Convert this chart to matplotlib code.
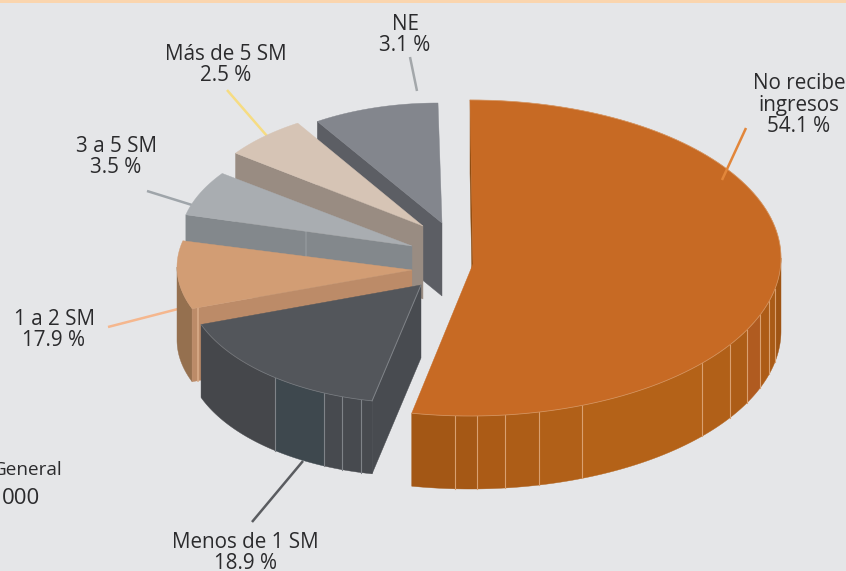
import numpy as np
from matplotlib import pyplot as plt

# printed labels
labels = ["No recibe\ningresos", "Menos de 1 SM", "1 a 2 SM", "3 a 5 SM", "Más de 5 SM", "NE"]
percents = [54.1, 18.9, 17.9, 3.5, 2.5, 3.1]
# share of the circle each slice really takes in the drawing (not the printed value)
drawn_shares = [53.0, 16.2, 9.4, 6.2, 6.1, 9.1]

# layout of each slice on the canvas
centers = [(470, 258), (415, 281), (407, 267), (410, 241), (420, 219), (438, 219)]
apexes = [(473, 264), (421, 285), (412, 270), (412, 246), (423, 226), (442, 223)]
radii = [(311, 158), (229, 122), (230, 117), (230, 117), (226, 114), (223, 116)]
DEPTH = 73

top_colors = ["#c76a24", "#53565b", "#d29d74", "#a9adb1", "#d6c4b5", "#83868d"]
side_colors = ["#8f4d12", "#484b50", "#bc8b68", "#83888c", "#998c82", "#5c5e64"]
wall_colors = ["#b26018", "#45474b", "#95704f", "#83888c", "#998c82", "#5c5e64"]
line_colors = ["#e2863a", "#5a5c60", "#f5b78e", "#9fa5aa", "#f6dc82", "#a3a7aa"]

# vertical seams on the outer wall, ordered along the rim
orange_seams = [775, 769, 760, 747, 730, 702, 582, 539, 505, 477, 455]
orange_facets = ["#9f5413", "#aa5b16", "#ad5c17", "#b05b20", "#ad5d17", "#b16018",
                 "#b46218", "#b16018", "#ad5d17", "#ab5b16", "#a55815", "#a35715"]
dark_seams = [361, 342, 324, 275]
dark_facets = ["#474a4f", "#474a4f", "#474a4f", "#3e484e", "#45474b"]
wall_seams = {0: (orange_seams, orange_facets), 1: (dark_seams, dark_facets)}
seam_colors = {0: "#d9a070", 1: "#7f8388"}
# seam on the radial face, as a fraction from the apex
side_seams = {2: (0.975, "#d8ab88"), 3: (0.47, "#91969a")}

# label centre and leader lines
label_pos = [(799, 105), (245, 553), (54, 330), (116, 157), (226, 65), (405, 35)]
leaders = [((746, 128), (722, 180)), ((252, 522), (303, 461)), ((108, 327), (178, 309)),
           ((147, 191), (192, 205)), ((227, 90), (267, 136)), ((410, 57), (417, 91))]
leader_z = [15, 1.5, 1.5, 1.5, 1.5, 1.5]


def rim(i, t):
    cx, cy = centers[i]
    rx, ry = radii[i]
    rad = np.radians(t)
    return cx + rx * np.sin(rad), cy - ry * np.cos(rad)


plt.rcParams["font.family"] = ["Open Sans", "DejaVu Sans"]
fig = plt.figure(figsize=(8.46, 5.71), dpi=100, facecolor="#e5e6e8")
ax = fig.add_axes([0, 0, 1, 1])
ax.set_xlim(0, 846)
ax.set_ylim(571, 0)
ax.axis("off")

# thin band along the top of the page
ax.axhspan(0, 3, color="#fad5ae", lw=0)

edges = np.concatenate([[0], np.cumsum(drawn_shares)]) * 3.6

# slices are painted back to front, each one gets its own zorder block
for layer, i in enumerate([0, 5, 4, 3, 2, 1]):
    z = 2 + layer
    t0, t1 = edges[i], edges[i + 1]
    ax_, ay_ = apexes[i]

    # outer wall, only the part facing the viewer
    w0, w1 = max(t0, 90), min(t1, 270)
    if w0 < w1:
        seams, facets = wall_seams.get(i, ([], [wall_colors[i]]))
        cuts = [180 - np.degrees(np.arcsin((x - centers[i][0]) / radii[i][0])) for x in seams]
        bounds = [w0] + cuts + [w1]
        for j, color in enumerate(facets):
            t = np.linspace(bounds[j], bounds[j + 1], 30)
            x, y = rim(i, t)
            ax.fill(np.r_[x, x[::-1]], np.r_[y, y[::-1] + DEPTH], color=color, lw=0.3, zorder=z)
            if j > 0:
                ax.plot([x[0], x[0]], [y[0], y[0] + DEPTH], color=seam_colors[i], lw=0.8, zorder=z + 0.1)

    # radial face at the start of the slice
    sx, sy = rim(i, t0)
    ax.fill([ax_, sx, sx, ax_], [ay_, sy, sy + DEPTH, ay_ + DEPTH], color=side_colors[i], lw=0.3, zorder=z + 0.2)
    if i in side_seams:
        frac, color = side_seams[i]
        mx, my = ax_ + (sx - ax_) * frac, ay_ + (sy - ay_) * frac
        ax.plot([mx, mx], [my, my + DEPTH], color=color, lw=1.2, zorder=z + 0.3)

    # top face
    t = np.linspace(t0, t1, 120)
    x, y = rim(i, t)
    ax.fill(np.r_[ax_, x], np.r_[ay_, y], color=top_colors[i], lw=0.3, zorder=z + 0.4)
    if i in seam_colors:
        ax.plot(x, y, color=seam_colors[i], lw=0.6, alpha=0.7, zorder=z + 0.5)
    if i == 1:
        ax.plot([ax_, sx], [ay_, sy], color=seam_colors[i], lw=0.7, zorder=z + 0.5)

for i, (name, pct) in enumerate(zip(labels, percents)):
    (x0, y0), (x1, y1) = leaders[i]
    ax.plot([x0, x1], [y0, y1], color=line_colors[i], lw=1.8, solid_capstyle="butt", zorder=leader_z[i])
    ax.text(label_pos[i][0], label_pos[i][1], f"{name}\n{pct} %", ha="center", va="center",
            fontsize=14.9, color="#2b2b2d", linespacing=1.05, zorder=20)

# text cut off at the left edge of the page, as in the source
ax.text(63, 470, "General", ha="right", va="center", fontsize=13.6, color="#2b2b2d")
ax.text(40, 499, "000", ha="right", va="center", fontsize=16, color="#2b2b2d")

fig.savefig("out.png", dpi=100, facecolor=fig.get_facecolor())
